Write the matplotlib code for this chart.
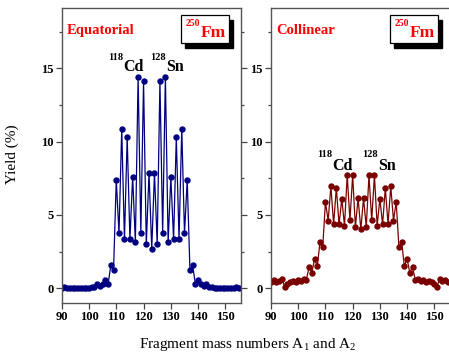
import numpy as np
import matplotlib
matplotlib.use('Agg')
import matplotlib.pyplot as plt
from matplotlib.patches import Rectangle
from matplotlib.ticker import MultipleLocator

plt.rcParams['font.family'] = ['Liberation Serif', 'DejaVu Serif']

# fragment mass numbers
mass = list(range(90, 156))

# equatorial configuration, yield in %
yield_equatorial = [
    0.05, 0.06, 0.05, 0.03, 0.04, 0.05, 0.04, 0.03, 0.05, 0.04,   # 90-99
    0.05, 0.08, 0.10, 0.30, 0.16, 0.27, 0.60, 0.27, 1.56, 1.22,   # 100-109
    7.38, 3.74, 10.88, 3.33, 10.29, 3.33, 7.58, 3.15, 14.43, 3.78,  # 110-119
    14.10, 2.99, 7.86, 2.70, 7.86, 2.99, 14.10, 3.78, 14.43, 3.15,  # 120-129
    7.58, 3.33, 10.29, 3.33, 10.88, 3.74, 7.38, 1.22, 1.56, 0.27,   # 130-139
    0.60, 0.27, 0.16, 0.30, 0.10, 0.08, 0.05, 0.04, 0.05, 0.03,   # 140-149
    0.04, 0.05, 0.04, 0.05, 0.06, 0.05,                           # 150-155
]

# collinear configuration, yield in %
yield_collinear = [
    0.43, 0.55, 0.40, 0.52, 0.66, 0.10, 0.27, 0.40, 0.50, 0.43,   # 90-99
    0.60, 0.50, 0.62, 0.60, 1.45, 1.07, 2.00, 1.50, 3.15, 2.81,   # 100-109
    5.89, 4.62, 6.95, 4.37, 6.84, 4.35, 6.10, 4.28, 7.70, 4.64,   # 110-119
    7.70, 4.19, 6.14, 4.01, 6.14, 4.19, 7.70, 4.64, 7.70, 4.28,   # 120-129
    6.10, 4.35, 6.84, 4.37, 6.95, 4.62, 5.89, 2.81, 3.15, 1.50,   # 130-139
    2.00, 1.07, 1.45, 0.60, 0.62, 0.50, 0.60, 0.43, 0.50, 0.40,   # 140-149
    0.27, 0.10, 0.66, 0.52, 0.60, 0.45,                           # 150-155
]

panels = [
    ('Equatorial', yield_equatorial, '#000080', (15.55, 14.8)),
    ('Collinear', yield_collinear, '#7a0000', (8.95, 8.05)),
]

fig = plt.figure(figsize=(4.49, 3.58), dpi=100)
ax_left = fig.add_axes([0.1374, 0.1536, 0.3987, 0.824])
ax_right = fig.add_axes([0.6036, 0.1536, 0.3976, 0.824])

for ax, (name, values, color, (sup_y, lab_y)) in zip([ax_left, ax_right], panels):
    ax.plot(mass, values, '-o', color=color, lw=0.9, ms=4.6,
            markeredgewidth=0)
    ax.set_xlim(90, 155.6)
    ax.set_ylim(-1, 19.1)
    ax.xaxis.set_major_locator(MultipleLocator(10))
    ax.yaxis.set_major_locator(MultipleLocator(5))
    ax.yaxis.set_minor_locator(MultipleLocator(2.5))
    ax.tick_params(axis='both', which='both', direction='out', color='#444444',
                   labelsize=9, pad=2)
    ax.tick_params(axis='both', which='major', length=4, width=0.9)
    ax.tick_params(axis='y', which='minor', length=2.5, width=0.9)
    ax.tick_params(axis='y', which='both', right=True)
    for lab in ax.get_xticklabels() + ax.get_yticklabels():
        lab.set_fontweight('bold')
    for sp in ax.spines.values():
        sp.set_color('#555555')
        sp.set_linewidth(1.0)

    ax.text(0.03, 0.945, name, transform=ax.transAxes, color='red',
            fontsize=10.5, fontweight='bold', va='top', ha='left')

    # boxed nucleus label with drop shadow
    bx, by, bw, bh = 0.665, 0.88, 0.27, 0.095
    ax.add_patch(Rectangle((bx + 0.022, by - 0.016), bw, bh, transform=ax.transAxes,
                           facecolor='black', edgecolor='black', clip_on=False, zorder=4))
    ax.add_patch(Rectangle((bx, by), bw, bh, transform=ax.transAxes,
                           facecolor='white', edgecolor='black', lw=0.9,
                           clip_on=False, zorder=5))
    ax.text(bx + 0.03, by + 0.06, '250', transform=ax.transAxes, color='red',
            fontsize=7, fontweight='bold', va='baseline', ha='left', zorder=6)
    ax.text(bx + 0.11, by + 0.022, 'Fm', transform=ax.transAxes, color='red',
            fontsize=12.5, fontweight='bold', va='baseline', ha='left', zorder=6)

    ax.text(112.4, sup_y, '118', fontsize=7.5, fontweight='bold',
            ha='right', va='baseline')
    ax.text(112.6, lab_y, 'Cd', fontsize=11.5, fontweight='bold',
            ha='left', va='baseline')
    ax.text(128.2 if name == 'Equatorial' else 129.3, sup_y, '128', fontsize=7.5,
            fontweight='bold', ha='right', va='baseline')
    ax.text(128.4 if name == 'Equatorial' else 129.5, lab_y, 'Sn', fontsize=11.5,
            fontweight='bold', ha='left', va='baseline')

fig.text(0.028, 0.57, 'Yield (%)', rotation=90, fontsize=11,
         ha='center', va='center')
fig.text(0.551, 0.038, r'Fragment mass numbers A$_\mathregular{1}$ and A$_\mathregular{2}$',
         fontsize=11, ha='center', va='center')

fig.savefig('out.png', dpi=100)
